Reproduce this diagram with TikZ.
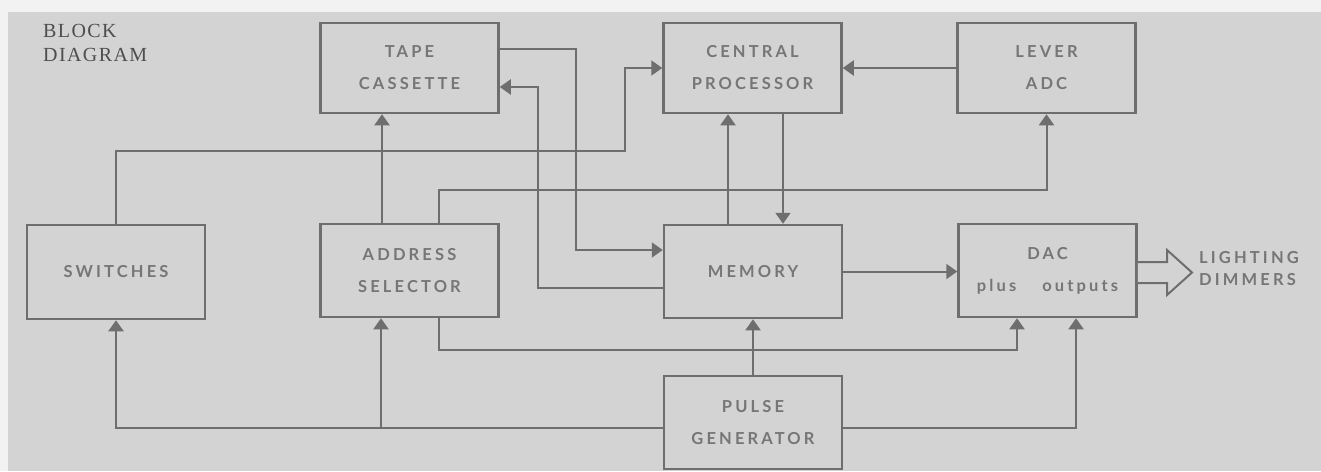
\documentclass[tikz,border=0pt]{standalone}
\usepackage{fontspec}
\newfontfamily\labfont[LetterSpace=19]{Lato Bold}
\newfontfamily\ttlfont[LetterSpace=7]{Liberation Serif}
\usetikzlibrary{arrows.meta,calc}
\definecolor{paper}{HTML}{F2F2F2}
\definecolor{bg}{HTML}{D3D3D3}
\definecolor{ink}{HTML}{6E6E6E}
\definecolor{txt}{HTML}{767676}
\definecolor{ttl}{HTML}{4E4E4E}
\begin{document}
\begin{tikzpicture}[x=1pt,y=-1pt,
  blk/.style={draw=ink, line width=2.5pt, minimum width=178pt, inner sep=0pt,
    align=center, text=txt, font=\labfont\fontsize{16.5}{32}\selectfont},
  conn/.style={draw=ink, line width=2pt},
  arr/.style={conn, -{Triangle[width=15pt,length=11pt]}}]
\useasboundingbox (0,0) rectangle (1321,471);
\fill[paper] (0,0) rectangle (1321,471);
\fill[bg] (8,12) rectangle (1321,471);

\node[anchor=north west, align=left, text=ttl, inner sep=0pt,
  font=\ttlfont\fontsize{20}{24.5}\selectfont] (title) at (43,24) {BLOCK\\DIAGRAM};

\node[blk, minimum height=90pt] (tape) at (409.5,68) {TAPE\\CASSETTE};
\node[blk, minimum height=90pt] (cp) at (752.5,68) {CENTRAL\\PROCESSOR};
\node[blk, minimum height=90pt] (lev) at (1046.5,68) {LEVER\\ADC};
\node[blk, minimum height=94pt] (sw) at (116,272) {SWITCHES};
\node[blk, minimum height=93pt] (addr) at (409.5,270.5) {ADDRESS\\SELECTOR};
\node[blk, minimum height=93pt] (mem) at (753,271.5) {MEMORY};
\node[blk, minimum height=93pt] (dac) at (1047.5,270.5) {DAC\\plus\hspace{26pt}outputs};
\node[blk, minimum height=93pt] (pg) at (753,422.5) {PULSE\\GENERATOR};

\draw[arr] (sw.north) |- (625,151) |- (cp.west);
\draw[arr] (lev.west) -- (cp.east);
\draw[arr] ([xshift=-27.5pt]addr.north) -- ([xshift=-27.5pt]tape.south);
\draw[arr] ([xshift=29.5pt]addr.north) |- (1046.5,190) -- (lev.south);
\draw[arr] ([xshift=30.5pt]cp.south) -- ([xshift=30pt]mem.north);
\draw[arr] ([xshift=-25pt]mem.north) -- ([xshift=-24.5pt]cp.south);
\draw[arr] ([yshift=19pt]tape.east) -| (576,250) -- (mem.west |- 0,250);
\draw[arr] (mem.west |- 0,288) -| (538,87) -- (tape.east |- 0,87);
\draw[arr] (mem.east) -- (mem.east -| dac.west);
\draw[arr] ([xshift=29.5pt]addr.south) |- (1017,350) -- (dac.south -| 1017,0);
\draw[arr] (pg.east |- 0,427.5) -| (dac.south -| 1076,0);
\draw[arr] (pg.west |- 0,427.5) -| (sw.south);
\coordinate (br) at (381,427.5);
\draw[arr] (br) -- (addr.south -| br);
\draw[arr] (pg.north) -- (mem.south);

\draw[ink, line width=2pt, fill=bg] (dac.east |- 0,262) -- (1167,262) -- (1167,250)
  -- (1192,272.5) -- (1167,295) -- (1167,283) -- (dac.east |- 0,283);
\node[anchor=west, align=left, text=txt, inner sep=0pt,
  font=\labfont\fontsize{16.5}{22}\selectfont] (ld) at (1199,269) {LIGHTING\\DIMMERS};
\end{tikzpicture}
\end{document}
